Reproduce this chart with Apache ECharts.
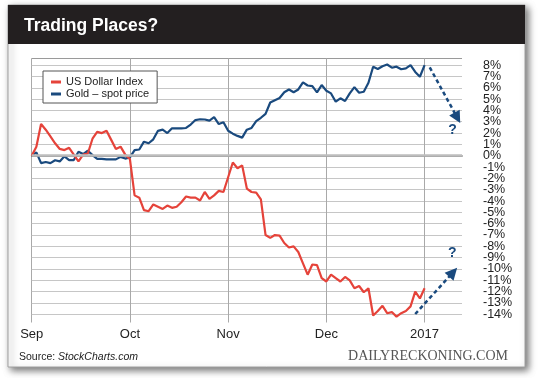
<!DOCTYPE html>
<html>
<head>
<meta charset="utf-8">
<script src="https://cdn.jsdelivr.net/npm/echarts@6/dist/echarts.min.js"></script>
<style>
  html, body { margin: 0; padding: 0; background: #fff; }
  #chart { width: 540px; height: 378px; }
</style>
</head>
<body>
<div id="chart"></div>
<script>
// x axis: trading days since Sep 1, 21 trading days per month
const monthTicks = ["Sep", "Oct", "Nov", "Dec", "2017"];
const daysPerMonth = 21;
const lastDay = 92;

// % change since start, one value per trading day
const usdIndex = [
  0, 0.8, 2.8, 2.3, 1.7, 1.1, 0.6, 0.5, 0.7, 0.1,
  -0.5, 0.1, 0.2, 1.5, 2.1, 2.0, 2.2, 1.4, 0.6, 0.8,
  0.1, -0.3, -3.5, -3.7, -4.8, -4.9, -4.3, -4.5, -4.7, -4.4,
  -4.6, -4.5, -4.1, -3.6, -3.7, -3.7, -3.95, -3.2, -3.8, -3.5,
  -3.1, -3.2, -1.9, -0.6, -1.1, -0.85, -2.9, -3.2, -3.25, -3.85,
  -7.0, -7.25, -7.0, -7.05, -7.7, -8.1, -8.0, -8.5, -9.5, -10.5,
  -9.6, -9.65, -10.8, -11.1, -10.5, -10.8, -11.1, -10.7, -11.0, -11.7,
  -11.5, -12.05, -11.7, -14.1, -13.7, -13.25, -13.9, -13.8, -14.2, -13.9,
  -13.7, -13.3, -12.0, -12.6, -11.7
];
const goldSpot = [
  0, 0.3, -0.65, -0.55, -0.65, -0.4, -0.5, -0.05, -0.38, -0.38,
  0.35, 0.15, 0.44, 0.05, -0.27, -0.27, -0.32, -0.32, -0.32, -0.1,
  -0.25, -0.15, 0.5, 0.55, 1.24, 1.1, 1.45, 2.2, 2.3, 2.0,
  2.42, 2.42, 2.42, 2.45, 2.75, 3.15, 3.22, 3.2, 3.1, 3.4,
  2.8, 2.95, 2.2, 1.95, 1.75, 1.6, 2.3, 2.45, 3.05, 3.35,
  3.7, 4.7, 4.9, 5.1, 5.6, 5.85, 5.6, 5.85, 6.48, 6.2,
  6.15, 5.6, 6.24, 5.74, 5.5, 4.77, 5.07, 4.83, 5.5, 6.05,
  5.56, 5.65, 6.44, 7.86, 7.65, 7.9, 8.05, 7.77, 7.86, 7.63,
  7.71, 8.0, 7.4, 6.97, 8.0
];

// forecast arrows [[fromDay, from%], [toDay, to%]] and "?" marks
const arrows = [
  [[85.1, 7.8], [91.0, 3.35]],
  [[82.0, -13.97], [90.1, -10.29]]
];
const questionMarks = [[90.0, 2.27], [89.9, -8.56]];

const RED = "#e5433a";
const BLUE = "#1a4a7e";
const FONT = "Liberation Sans, Arial, Helvetica, sans-serif";

const toPairs = (arr) => arr.map((v, i) => [i, v]);

const chart = echarts.init(document.getElementById("chart"), null, { renderer: "canvas" });

// horizontal grid: -14 .. 8 light, top border a bit darker
let hColors = [];
for (let v = -14; v <= 8; v++) hColors.push("#c6c6c6");
hColors.push("#9a9a9a");

const option = {
  animation: false,
  backgroundColor: "#fff",
  graphic: [
    {
      type: "rect",
      z: -10,
      shape: { x: 8, y: 5, width: 517, height: 362 },
      style: {
        fill: "#fff",
        stroke: "#a0a0a0",
        lineWidth: 1,
        shadowBlur: 7,
        shadowOffsetX: 3,
        shadowOffsetY: 3,
        shadowColor: "rgba(0,0,0,0.55)"
      }
    },
    {
      type: "rect",
      z: -9,
      shape: { x: 8, y: 5, width: 517, height: 39 },
      style: { fill: "#231f20" }
    },
    {
      type: "text",
      x: 24,
      y: 26,
      style: {
        text: "Trading Places?",
        fill: "#fff",
        font: "bold 17.5px " + FONT,
        textVerticalAlign: "middle"
      }
    },
    {
      type: "text",
      x: 19,
      y: 357,
      style: {
        text: "{a|Source: }{b|StockCharts.com}",
        fill: "#222",
        textVerticalAlign: "middle",
        rich: {
          a: { fontFamily: FONT, fontSize: 10.5, color: "#222" },
          b: { fontFamily: FONT, fontSize: 10.5, fontStyle: "italic", color: "#222" }
        }
      }
    },
    {
      type: "text",
      x: 508,
      y: 356,
      style: {
        text: "DAILYRECKONING.COM",
        fill: "#555",
        font: "14px Liberation Serif, Times New Roman, serif",
        textAlign: "right",
        textVerticalAlign: "middle"
      }
    }
  ],
  legend: {
    orient: "vertical",
    left: 43,
    top: 71,
    padding: [5, 8, 3, 8],
    itemGap: 0,
    itemWidth: 10,
    itemHeight: 3,
    icon: "rect",
    backgroundColor: "#fff",
    borderColor: "#555",
    borderWidth: 1,
    borderRadius: 0,
    textStyle: { fontFamily: FONT, fontSize: 11, lineHeight: 12, color: "#222" },
    data: ["US Dollar Index", "Gold \u2013 spot price"]
  },
  grid: { left: 31.7, top: 58.3, right: 78, bottom: 55.5, containLabel: false },
  xAxis: {
    type: "value",
    min: 0,
    max: lastDay,
    interval: daysPerMonth,
    axisLine: { show: true, lineStyle: { color: "#555", width: 1.5 } },
    axisTick: { show: false },
    axisLabel: {
      margin: 5,
      fontFamily: FONT,
      fontSize: 13,
      color: "#222",
      showMaxLabel: false,
      formatter: (v) => monthTicks[v / daysPerMonth] || ""
    },
    splitLine: { show: true, showMinLine: true, showMaxLine: false, lineStyle: { color: "#a9a9a9", width: 1 } }
  },
  yAxis: {
    type: "value",
    position: "right",
    min: -14.72,
    max: 8.6,
    minInterval: 1,
    maxInterval: 1,
    axisLine: { show: false },
    axisTick: { show: true, inside: false, length: 14, lineStyle: { color: "#c6c6c6" } },
    axisLabel: {
      margin: 21,
      fontFamily: FONT,
      fontSize: 12.5,
      color: "#222",
      showMinLabel: false,
      showMaxLabel: false,
      formatter: (v) => (Math.abs(v - Math.round(v)) < 1e-6 ? Math.round(v) + "%" : "")
    },
    splitLine: { show: true, showMinLine: false, showMaxLine: true, lineStyle: { color: hColors, width: 1 } }
  },
  series: [
    {
      name: "zero",
      type: "line",
      z: 1,
      data: [],
      markLine: {
        silent: true,
        symbol: "none",
        label: { show: false },
        lineStyle: { color: "#bdbdbd", width: 2.5, type: "solid" },
        data: [{ yAxis: 0 }]
      }
    },
    {
      name: "Gold \u2013 spot price",
      type: "line",
      z: 3,
      data: toPairs(goldSpot),
      showSymbol: false,
      symbol: "none",
      lineStyle: { color: BLUE, width: 2.2 },
      itemStyle: { color: BLUE },
      markLine: {
        silent: true,
        symbol: ["none", "triangle"],
        symbolSize: 12,
        label: { show: false },
        lineStyle: { color: BLUE, width: 2.5, type: [4, 3] },
        data: arrows.map((a) => [{ coord: a[0] }, { coord: a[1] }])
      },
      markPoint: {
        silent: true,
        symbol: "circle",
        symbolSize: 1,
        itemStyle: { color: "rgba(0,0,0,0)" },
        label: {
          show: true,
          position: "inside",
          formatter: "?",
          color: BLUE,
          fontFamily: FONT,
          fontWeight: "bold",
          fontSize: 14
        },
        data: questionMarks.map((q) => ({ coord: q }))
      }
    },
    {
      name: "US Dollar Index",
      type: "line",
      z: 4,
      data: toPairs(usdIndex),
      showSymbol: false,
      symbol: "none",
      lineStyle: { color: RED, width: 2.2 },
      itemStyle: { color: RED }
    }
  ]
};

chart.setOption(option);
</script>
</body>
</html>
